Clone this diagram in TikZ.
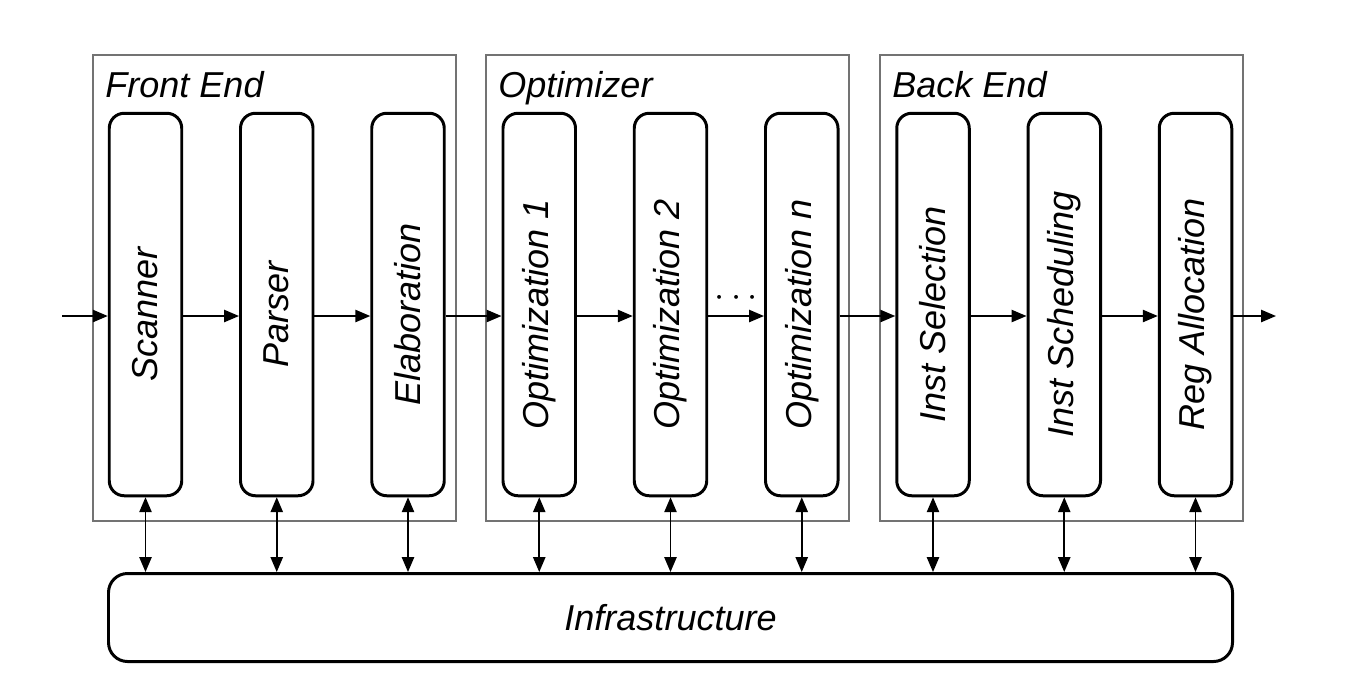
\documentclass[tikz,border=0pt]{standalone}
\usepackage{fontspec}
\setmainfont{Liberation Sans}
\usetikzlibrary{arrows.meta, calc, positioning}

\newcommand{\vlabel}[1]{\rotatebox{90}{#1\hspace*{0.4cm}}}

\begin{document}
\begin{tikzpicture}[>={Triangle[length=8.5pt, width=7pt]}, node distance=2.625cm]
	\tikzstyle{group} = [draw=black!55, line width=1.1pt, minimum width=7.26cm, minimum height=9.32cm, inner sep=0pt]
	\tikzstyle{grouplabel} = [anchor=base west, inner sep=0pt, font=\fontsize{20.5}{24}\selectfont\itshape]
	\tikzstyle{stage} = [draw, line width=1.7pt, rounded corners=0.3cm, minimum width=1.45cm, minimum height=7.65cm, inner sep=0pt, font=\fontsize{20.5}{24}\selectfont\itshape]
	\tikzstyle{flow} = [->, line width=0.9pt]
	\tikzstyle{link} = [<->, line width=0.9pt]

	\useasboundingbox (0,0) rectangle (27.38,-13.64);

	% groups
	\node[group] (frontend) at (5.49,-5.76) {};
	\node[group] (optimizer) at (13.35,-5.76) {};
	\node[group] (backend) at (21.23,-5.76) {};

	\node[grouplabel] (frontendlabel) at ([xshift=0.26cm, yshift=-0.86cm]frontend.north west) {Front End};
	\node[grouplabel] (optimizerlabel) at ([xshift=0.26cm, yshift=-0.86cm]optimizer.north west) {Optimizer};
	\node[grouplabel] (backendlabel) at ([xshift=0.26cm, yshift=-0.86cm]backend.north west) {Back End};

	% stages
	\node[stage] (scanner) at (2.91,-6.09) {\vlabel{Scanner}};
	\node[stage, right of=scanner] (parser) {\vlabel{Parser}};
	\node[stage, right of=parser] (elab) {\vlabel{Elaboration}};
	\node[stage, right of=elab] (opta) {\vlabel{Optimization 1}};
	\node[stage, right of=opta] (optb) {\vlabel{Optimization 2}};
	\node[stage, right of=optb] (optn) {\vlabel{Optimization n}};
	\node[stage, right of=optn] (instsel) {\vlabel{Inst Selection}};
	\node[stage, right of=instsel] (instsched) {\vlabel{Inst Scheduling}};
	\node[stage, right of=instsched] (regalloc) {\vlabel{Reg Allocation}};

	\node[stage, rounded corners=0.38cm, minimum width=22.48cm, minimum height=1.76cm, below of=optb, node distance=6.26cm] (infra) {Infrastructure};

	\coordinate (in) at (1.24,-6.32);
	\coordinate (out) at (25.52,-6.32);

	% main flow
	\draw[flow] (in) -- (scanner.west |- in);
	\draw[flow] (scanner.east |- in) -- (parser.west |- in);
	\draw[flow] (parser.east |- in) -- (elab.west |- in);
	\draw[flow] (elab.east |- in) -- (opta.west |- in);
	\draw[flow] (opta.east |- in) -- (optb.west |- in);
	\draw[flow] (optb.east |- in) -- (optn.west |- in);
	\draw[flow] (optn.east |- in) -- (instsel.west |- in);
	\draw[flow] (instsel.east |- in) -- (instsched.west |- in);
	\draw[flow] (instsched.east |- in) -- (regalloc.west |- in);
	\draw[flow] (regalloc.east |- in) -- (out);

	\node[anchor=base, inner sep=0pt, font=\fontsize{20.5}{24}\selectfont] (dots) at ($($(optb.east |- in)!0.5!(optn.west |- in)$) + (0,0.2)$) {$\cdots$};

	% links to infrastructure
	\draw[link] (scanner.south) -- (scanner.south |- infra.north);
	\draw[link] (parser.south) -- (parser.south |- infra.north);
	\draw[link] (elab.south) -- (elab.south |- infra.north);
	\draw[link] (opta.south) -- (opta.south |- infra.north);
	\draw[link] (optb.south) -- (optb.south |- infra.north);
	\draw[link] (optn.south) -- (optn.south |- infra.north);
	\draw[link] (instsel.south) -- (instsel.south |- infra.north);
	\draw[link] (instsched.south) -- (instsched.south |- infra.north);
	\draw[link] (regalloc.south) -- (regalloc.south |- infra.north);
\end{tikzpicture}
\end{document}
